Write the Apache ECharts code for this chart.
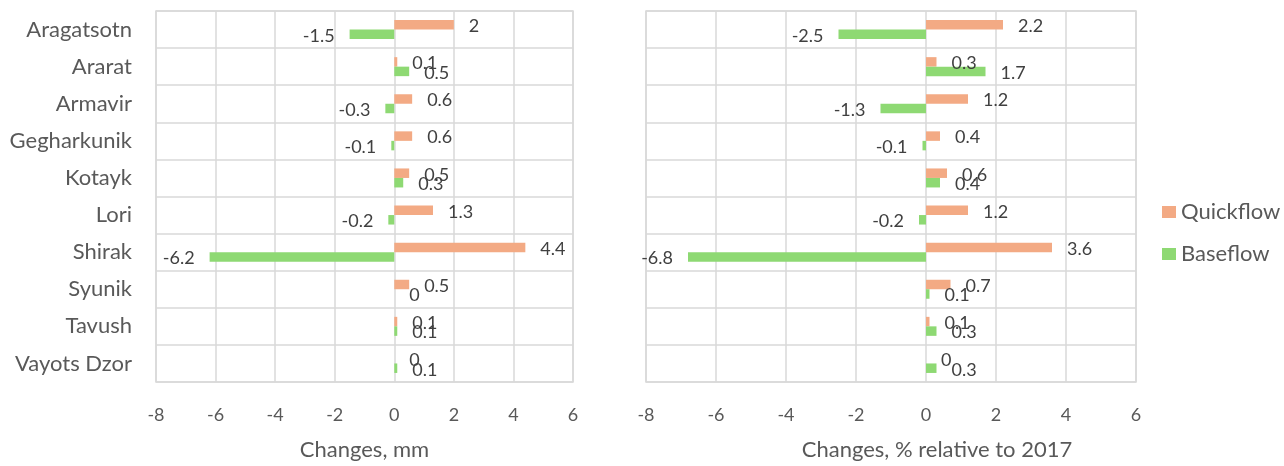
<!DOCTYPE html>
<html>
<head>
<meta charset="utf-8">
<script src="https://cdn.jsdelivr.net/npm/echarts@6/dist/echarts.min.js"></script>
<style>
html,body{margin:0;padding:0;background:#fff;}
#chart{width:1284px;height:466px;}
</style>
</head>
<body>
<div id="chart"></div>
<script>
const categories = ['Aragatsotn','Ararat','Armavir','Gegharkunik','Kotayk','Lori','Shirak','Syunik','Tavush','Vayots Dzor'];
const quickflowMm = [2, 0.1, 0.6, 0.6, 0.5, 1.3, 4.4, 0.5, 0.1, 0];
const baseflowMm = [-1.5, 0.5, -0.3, -0.1, 0.3, -0.2, -6.2, 0, 0.1, 0.1];
const quickflowPct = [2.2, 0.3, 1.2, 0.4, 0.6, 1.2, 3.6, 0.7, 0.1, 0];
const baseflowPct = [-2.5, 1.7, -1.3, -0.1, 0.4, -0.2, -6.8, 0.1, 0.3, 0.3];
const xTicks = [-8, -6, -4, -2, 0, 2, 4, 6];
const seriesNames = ['Quickflow', 'Baseflow'];
const axisTitles = ['Changes, mm', 'Changes, % relative to 2017'];

const FONT = 'Lato';
const ORANGE = '#F3AA84';
const GREEN = '#8ED973';
const GRID_C = '#D9D9D9';

function withLabels(vals) {
  return vals.map(v => ({
    value: v,
    label: { position: v < 0 ? 'left' : 'right' }
  }));
}

function valueAxis(idx) {
  return {
    type: 'value', gridIndex: idx,
    min: xTicks[0], max: xTicks[xTicks.length - 1], interval: 2,
    axisLine: { show: false }, axisTick: { show: false },
    splitLine: { show: true, lineStyle: { color: GRID_C, width: 1.5 } },
    axisLabel: { color: '#595959', fontFamily: FONT, fontSize: 18, margin: 24 },
    name: axisTitles[idx], nameLocation: 'middle', nameGap: 57,
    nameTextStyle: idx === 1
      ? { color: '#595959', fontFamily: FONT, fontSize: 22, padding: [0, 0, 0, 92] }
      : { color: '#595959', fontFamily: FONT, fontSize: 22 }
  };
}

function catAxis(idx) {
  return {
    type: 'category', gridIndex: idx, data: categories, inverse: true,
    axisLine: { show: false }, axisTick: { show: false },
    splitLine: { show: true, lineStyle: { color: GRID_C, width: 1.5 } },
    axisLabel: { show: idx === 0, color: '#595959', fontFamily: FONT, fontSize: 22, margin: 24 }
  };
}

function barSeries(name, vals, idx, color) {
  return {
    type: 'bar', name: name, xAxisIndex: idx, yAxisIndex: idx,
    data: withLabels(vals),
    barWidth: 9.5, barGap: '0%',
    itemStyle: { color: color },
    label: { show: true, distance: 15, color: '#404040', fontFamily: FONT, fontSize: 18, offset: [0, 1.5] },
    emphasis: { disabled: true },
    animation: false
  };
}

const chart = echarts.init(document.getElementById('chart'), null, { renderer: 'canvas' });
chart.setOption({
  animation: false,
  grid: [
    { left: 156, right: 711, top: 11, bottom: 79, show: true, borderColor: GRID_C, borderWidth: 1.5 },
    { left: 646, right: 148, top: 11, bottom: 79, show: true, borderColor: GRID_C, borderWidth: 1.5 }
  ],
  xAxis: [valueAxis(0), valueAxis(1)],
  yAxis: [catAxis(0), catAxis(1)],
  legend: {
    data: seriesNames, orient: 'vertical', left: 1157, top: 196, itemGap: 20,
    itemWidth: 14, itemHeight: 12, icon: 'rect',
    textStyle: { color: '#595959', fontFamily: FONT, fontSize: 22 },
    itemStyle: { borderWidth: 0 }
  },
  series: [
    barSeries(seriesNames[0], quickflowMm, 0, ORANGE),
    barSeries(seriesNames[1], baseflowMm, 0, GREEN),
    barSeries(seriesNames[0], quickflowPct, 1, ORANGE),
    barSeries(seriesNames[1], baseflowPct, 1, GREEN)
  ]
});
</script>
</body>
</html>
